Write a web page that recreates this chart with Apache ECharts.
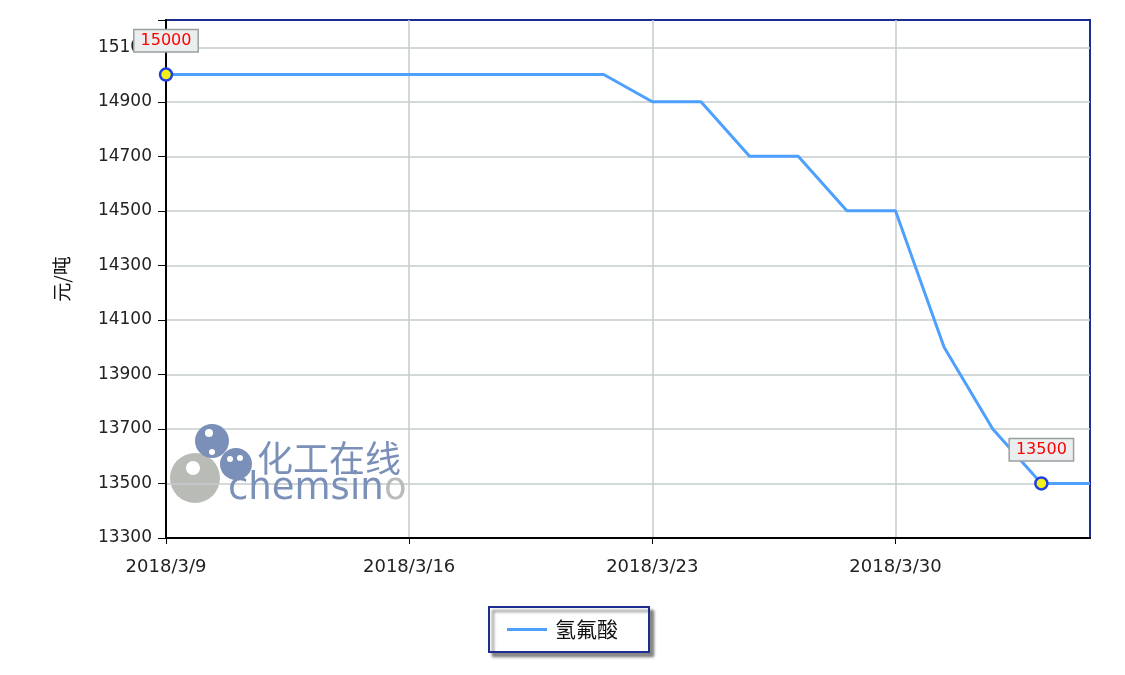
<!DOCTYPE html>
<html><head><meta charset="utf-8">
<script src="https://cdn.jsdelivr.net/npm/echarts@6/dist/echarts.min.js"></script>
<style>html,body{margin:0;padding:0;background:#fff}#c{width:1125px;height:675px}</style>
</head><body><div id="c"></div>
<script>
const categories = ['2018/3/9','2018/3/12','2018/3/13','2018/3/14','2018/3/15','2018/3/16','2018/3/19','2018/3/20','2018/3/21','2018/3/22','2018/3/23','2018/3/26','2018/3/27','2018/3/28','2018/3/29','2018/3/30','2018/4/2','2018/4/3','2018/4/4','2018/4/5'];
const prices = [15000,15000,15000,15000,15000,15000,15000,15000,15000,15000,14900,14900,14700,14700,14500,14500,14000,13700,13500,13500];
const seriesName = '氢氟酸';
const yTitle = '元/吨';

const maxIdx = prices.indexOf(Math.max(...prices));
const minIdx = prices.indexOf(Math.min(...prices));
const seriesData = prices.map((v, i) => {
  if (i === maxIdx || i === minIdx) {
    return {
      value: v,
      symbol: 'circle', symbolSize: 12,
      itemStyle: {color: '#f2f01a', borderColor: '#1f3fe0', borderWidth: 2.5},
      label: {
        show: true, position: 'top', distance: 16,
        color: '#ff0000', fontSize: 16, fontFamily: 'DejaVu Sans',
        backgroundColor: '#ebeeee', borderColor: '#9aa0a0', borderWidth: 1.5,
        padding: [3, 6, 2, 6]
      }
    };
  }
  return {value: v, symbol: 'none'};
});

const chart = echarts.init(document.getElementById('c'));
chart.setOption({
  animation: false,
  backgroundColor: '#fff',
  textStyle: {fontFamily: 'DejaVu Sans'},
  grid: {left: 166, right: 35, top: 20, bottom: 137, show: true, borderColor: '#1c2c90', borderWidth: 2, backgroundColor: 'transparent'},
  xAxis: {
    type: 'category', data: categories, boundaryGap: false,
    axisLine: {lineStyle: {color: '#000', width: 2}},
    axisTick: {show: true, interval: 4, length: 6, lineStyle: {color: '#000'}},
    axisLabel: {interval: 4, color: '#222', fontSize: 18, margin: 20, fontFamily: 'DejaVu Sans'},
    splitLine: {show: true, interval: 4, lineStyle: {color: '#c4cccc', width: 1.5}}
  },
  yAxis: {
    type: 'value', min: 13300, max: 15200, interval: 200,
    name: yTitle, nameLocation: 'middle', nameGap: 95, nameRotate: 90,
    nameTextStyle: {color: '#111', fontSize: 19, fontFamily: 'Noto Sans CJK SC'},
    axisLine: {show: true, lineStyle: {color: '#000', width: 2}},
    axisTick: {show: true, length: 8, lineStyle: {color: '#000'}},
    axisLabel: {color: '#222', fontSize: 17, margin: 14, fontFamily: 'DejaVu Sans',
      formatter: v => (v > 15100 ? '' : String(v))},
    splitLine: {show: true, showMaxLine: false, lineStyle: {color: '#c4cccc', width: 1.5}}
  },
  legend: {
    bottom: 23, left: 'center',
    data: [{name: seriesName, icon: 'rect', itemStyle: {color: '#4ea0ff'}}],
    itemWidth: 40, itemHeight: 3, itemGap: 10,
    textStyle: {color: '#111', fontSize: 21, fontFamily: 'Noto Sans CJK SC', padding: [0, 0, 0, 3]},
    borderColor: '#1c2c90', borderWidth: 2, padding: [12, 31, 12, 18],
    backgroundColor: '#fff',
    shadowColor: 'rgba(0,0,0,0.45)', shadowBlur: 3, shadowOffsetX: 4, shadowOffsetY: 4
  },
  graphic: [
    {type: 'circle', shape: {cx: 195, cy: 478, r: 25}, style: {fill: '#b9bcb6'}, z: 0},
    {type: 'circle', shape: {cx: 193, cy: 468, r: 7}, style: {fill: '#fff'}, z: 1},
    {type: 'circle', shape: {cx: 212, cy: 441, r: 17}, style: {fill: '#7a90b8'}, z: 1},
    {type: 'circle', shape: {cx: 209, cy: 433, r: 4}, style: {fill: '#fff'}, z: 2},
    {type: 'circle', shape: {cx: 212, cy: 452, r: 3}, style: {fill: '#fff'}, z: 2},
    {type: 'circle', shape: {cx: 236, cy: 464, r: 16}, style: {fill: '#7a90b8'}, z: 1},
    {type: 'circle', shape: {cx: 230, cy: 459, r: 3}, style: {fill: '#fff'}, z: 2},
    {type: 'circle', shape: {cx: 240, cy: 458, r: 3}, style: {fill: '#fff'}, z: 2},
    {type: 'text', x: 257, y: 440, style: {text: '化工在线', fill: '#7a90b8', font: '36px "Noto Sans CJK SC"'}, z: 1},
    {type: 'text', x: 228, y: 471, style: {text: 'chemsin', fill: '#7a90b8', font: '37px "DejaVu Sans"'}, z: 1},
    {type: 'text', x: 384, y: 471, style: {text: 'o', fill: '#b9bcb6', font: '37px "DejaVu Sans"'}, z: 1}
  ],
  series: [{
    name: seriesName, type: 'line', data: seriesData,
    symbol: 'none',
    lineStyle: {color: '#4ea0ff', width: 3},
    itemStyle: {color: '#4ea0ff'},
    z: 5
  }]
});
</script></body></html>
